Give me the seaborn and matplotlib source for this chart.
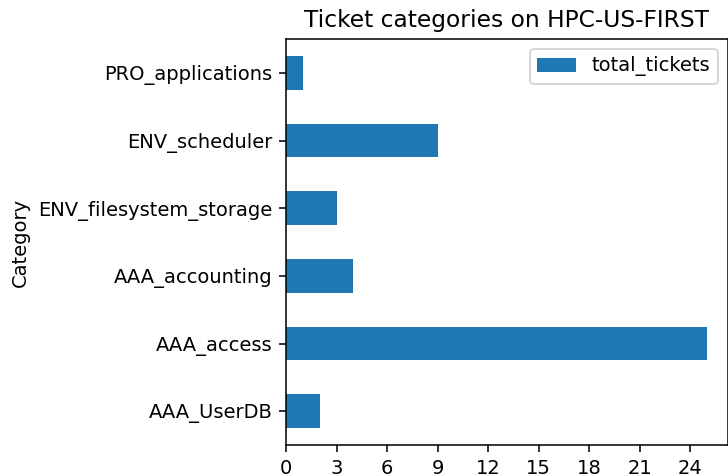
import matplotlib
matplotlib.use('Agg')
import matplotlib.pyplot as plt
import seaborn as sns
import pandas as pd

# ticket counts per category (top to bottom as drawn)
categories = ['PRO_applications', 'ENV_scheduler', 'ENV_filesystem_storage',
              'AAA_accounting', 'AAA_access', 'AAA_UserDB']
total_tickets = [1, 9, 3, 4, 25, 2]
xticks = [0, 3, 6, 9, 12, 15, 18, 21, 24]

df = pd.DataFrame({'Category': categories, 'total_tickets': total_tickets})

dpi = 140
fig = plt.figure(figsize=(728 / dpi, 476 / dpi), dpi=dpi)
ax = fig.add_axes([286 / 728, 31 / 476, 442 / 728, 406 / 476])

sns.barplot(data=df, x='total_tickets', y='Category', order=categories,
            color='#1f77b4', saturation=1, width=0.5, label='total_tickets',
            orient='h', ax=ax)
ax.set_xlim(0, max(total_tickets) * 1.05)
ax.set_xticks(xticks)
ax.set_xlabel('')
ax.set_ylabel('Category')
ax.set_title('Ticket categories on HPC-US-FIRST')
ax.legend(loc='upper right')

fig.savefig('out.png', dpi=dpi)
plt.close()
